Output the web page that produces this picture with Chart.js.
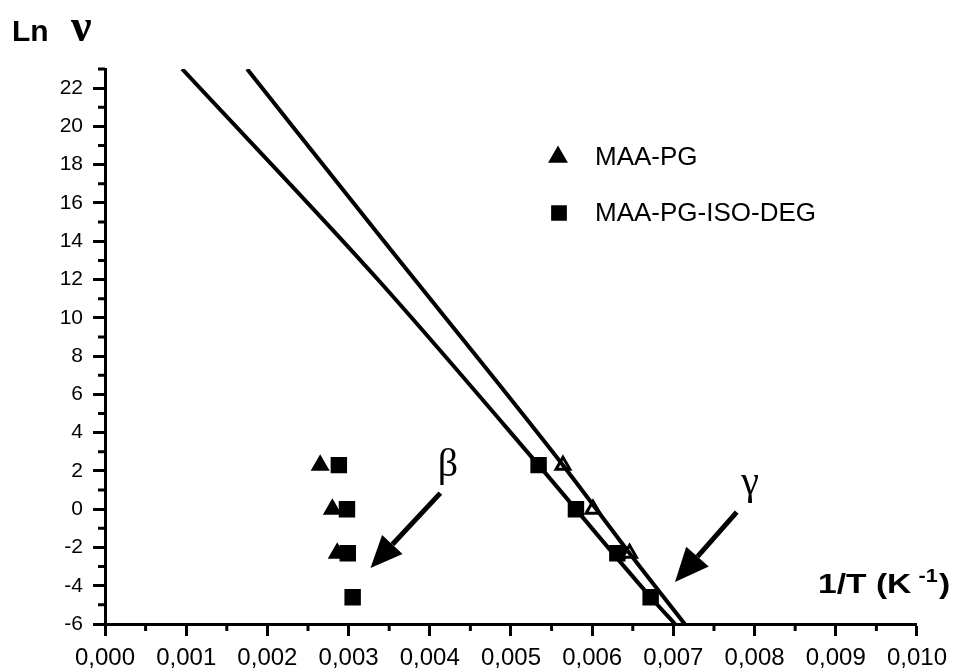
<!DOCTYPE html>
<html>
<head>
<meta charset="utf-8">
<script src="https://cdn.jsdelivr.net/npm/chart.js@4.4.1/dist/chart.umd.min.js"></script>
<style>
  html, body { margin: 0; padding: 0; background: #fff; }
  #wrap { width: 955px; height: 671px; position: relative; }
</style>
</head>
<body>
<div id="wrap"><canvas id="chart"></canvas></div>
<script>
// Ln(nu) vs 1/T : relaxations beta et gamma, MAA-PG et MAA-PG-ISO-DEG

const X_TICKS = [0, 0.001, 0.002, 0.003, 0.004, 0.005, 0.006, 0.007, 0.008, 0.009, 0.010]
const X_TICK_LABELS = ['0,000', '0,001', '0,002', '0,003', '0,004', '0,005', '0,006', '0,007', '0,008', '0,009', '0,010']
const X_MINOR = [0.0005, 0.0015, 0.0025, 0.0035, 0.0045, 0.0055, 0.0065, 0.0075, 0.0085, 0.0095]
const Y_TICKS = [-6, -4, -2, 0, 2, 4, 6, 8, 10, 12, 14, 16, 18, 20, 22]
const Y_MINOR = [-5, -3, -1, 1, 3, 5, 7, 9, 11, 13, 15, 17, 19, 21, 23]

// MAA-PG (triangles)
const PG_BETA_X = [0.00265, 0.00280, 0.00286]
const PG_BETA_Y = [2.3, 0, -2.3]
const PG_GAMMA_X = [0.00564, 0.00601, 0.00646]
const PG_GAMMA_Y = [2.3, 0, -2.3]

// MAA-PG-ISO-DEG (carres)
const ISO_BETA_X = [0.00288, 0.00298, 0.00299, 0.00305]
const ISO_BETA_Y = [2.3, 0, -2.3, -4.6]
const ISO_GAMMA_X = [0.00534, 0.00580, 0.00631, 0.00672]
const ISO_GAMMA_Y = [2.3, 0, -2.3, -4.6]

// courbes d'ajustement
const FIT_ISO_X = [0.00095, 0.00336, 0.00534, 0.00672, 0.00702]
const FIT_ISO_Y = [23, 12, 2.3, -4.6, -6]
const FIT_PG_X = [0.00175, 0.00336, 0.00564, 0.00646, 0.00714]
const FIT_PG_Y = [23, 14.4, 2.3, -2.3, -6]

const zip = (xs, ys) => xs.map((x, i) => ({ x, y: ys[i] }))

const FONT = '"Liberation Sans", Arial, sans-serif'
const SERIF = '"Liberation Serif", "Times New Roman", serif'

const decorations = {
  id: 'decorations',
  afterDraw(chart) {
    const { ctx, chartArea, scales } = chart
    const xs = scales.x, ys = scales.y
    ctx.save()
    ctx.strokeStyle = '#000'
    ctx.fillStyle = '#000'

    // petites graduations
    ctx.lineWidth = 3
    ctx.beginPath()
    Y_MINOR.forEach(v => {
      const py = ys.getPixelForValue(v)
      ctx.moveTo(chartArea.left - 7, py)
      ctx.lineTo(chartArea.left, py)
    })
    X_MINOR.forEach(v => {
      const px = xs.getPixelForValue(v)
      ctx.moveTo(px, chartArea.bottom)
      ctx.lineTo(px, chartArea.bottom + 7)
    })
    ctx.stroke()

    // titres des axes
    ctx.textBaseline = 'alphabetic'
    ctx.textAlign = 'left'
    ctx.font = `bold 30px ${FONT}`
    ctx.fillText('Ln', 12, 41)
    ctx.font = `bold 46px ${SERIF}`
    ctx.fillText('ν', 71, 41)

    // 1/T (K-1), un peu elargi
    ctx.save()
    ctx.translate(818, 593)
    ctx.scale(1.2, 1)
    ctx.font = `bold 28px ${FONT}`
    ctx.fillText('1/T (K', 0, 0)
    let tx = ctx.measureText('1/T (K').width + 6
    ctx.font = `bold 18px ${FONT}`
    ctx.fillText('-1', tx, -11)
    tx += ctx.measureText('-1').width + 1
    ctx.font = `bold 28px ${FONT}`
    ctx.fillText(')', tx, 0)
    ctx.restore()

    // legende
    Chart.helpers.drawPoint(ctx, { pointStyle: 'triangle', radius: 8.5, rotation: 0, borderWidth: 1 }, 558, 157)
    ctx.fill()
    Chart.helpers.drawPoint(ctx, { pointStyle: 'rect', radius: 9, rotation: 0, borderWidth: 1 }, 559, 213)
    ctx.fill()
    ctx.font = `26px ${FONT}`
    ctx.textBaseline = 'middle'
    ctx.fillText('MAA-PG', 595, 158)
    ctx.fillText('MAA-PG-ISO-DEG', 595, 214)

    // lettres grecques
    ctx.textBaseline = 'alphabetic'
    ctx.font = `40px ${SERIF}`
    ctx.textAlign = 'center'
    ctx.fillText('β', 448, 476)
    ctx.fillText('γ', 750, 494)

    // fleches
    arrow(ctx, xs, ys, 0.00413, 0.84, 0.00327, -3.07, 32, 14)
    arrow(ctx, xs, ys, 0.00778, -0.15, 0.00702, -3.81, 34, 15)
    ctx.restore()
  },
}

function arrow(ctx, xs, ys, x0, y0, x1, y1, headLen, headW) {
  const ax = xs.getPixelForValue(x0), ay = ys.getPixelForValue(y0)
  const bx = xs.getPixelForValue(x1), by = ys.getPixelForValue(y1)
  const ang = Math.atan2(by - ay, bx - ax)
  const hx = bx - Math.cos(ang) * headLen, hy = by - Math.sin(ang) * headLen
  ctx.lineWidth = 5
  ctx.beginPath()
  ctx.moveTo(ax, ay)
  ctx.lineTo(hx, hy)
  ctx.stroke()
  ctx.beginPath()
  ctx.moveTo(bx, by)
  ctx.lineTo(hx + Math.sin(ang) * headW, hy - Math.cos(ang) * headW)
  ctx.lineTo(hx - Math.sin(ang) * headW, hy + Math.cos(ang) * headW)
  ctx.closePath()
  ctx.fill()
}

const pointSet = (label, xs, ys, style, radius, fill) => ({
  type: 'scatter',
  label,
  data: zip(xs, ys),
  pointStyle: style,
  pointRadius: radius,
  pointHoverRadius: radius,
  pointBackgroundColor: fill,
  pointBorderColor: '#000',
  pointBorderWidth: 3,
  showLine: false,
})

const fitLine = (label, xs, ys) => ({
  type: 'line',
  label,
  data: zip(xs, ys),
  borderColor: '#000',
  borderWidth: 4,
  pointRadius: 0,
  cubicInterpolationMode: 'monotone',
  fill: false,
})

new Chart(document.getElementById('chart'), {
  data: {
    datasets: [
      fitLine('fit MAA-PG-ISO-DEG', FIT_ISO_X, FIT_ISO_Y),
      fitLine('fit MAA-PG', FIT_PG_X, FIT_PG_Y),
      pointSet('MAA-PG', PG_BETA_X, PG_BETA_Y, 'triangle', 8, '#000'),
      pointSet('MAA-PG', PG_GAMMA_X, PG_GAMMA_Y, 'triangle', 8, '#fff'),
      pointSet('MAA-PG-ISO-DEG', ISO_BETA_X, ISO_BETA_Y, 'rect', 9.5, '#000'),
      pointSet('MAA-PG-ISO-DEG', ISO_GAMMA_X, ISO_GAMMA_Y, 'rect', 9.5, '#000'),
    ],
  },
  options: {
    responsive: true,
    maintainAspectRatio: false,
    animation: false,
    layout: { padding: { left: 0, right: 31, top: 69, bottom: 0 } },
    plugins: { legend: { display: false }, tooltip: { enabled: false } },
    scales: {
      x: {
        type: 'linear',
        min: 0,
        max: 0.010,
        afterBuildTicks: s => { s.ticks = X_TICKS.map(value => ({ value })) },
        afterFit: s => { s.height = 47 },
        grid: { drawOnChartArea: false, drawTicks: true, tickLength: 12, tickWidth: 3, tickColor: '#000' },
        border: { color: '#000', width: 3 },
        ticks: {
          color: '#000',
          padding: 8,
          maxRotation: 0,
          autoSkip: false,
          font: { family: FONT, size: 24 },
          callback: (v, i) => X_TICK_LABELS[i],
        },
      },
      y: {
        type: 'linear',
        min: -6,
        max: 23,
        afterBuildTicks: s => { s.ticks = Y_TICKS.map(value => ({ value })) },
        afterFit: s => { s.width = 105 },
        grid: { drawOnChartArea: false, drawTicks: true, tickLength: 12, tickWidth: 3, tickColor: '#000' },
        border: { color: '#000', width: 3 },
        ticks: {
          color: '#000',
          padding: 10,
          autoSkip: false,
          font: { family: FONT, size: 21 },
        },
      },
    },
  },
  plugins: [decorations],
})
</script>
</body>
</html>
